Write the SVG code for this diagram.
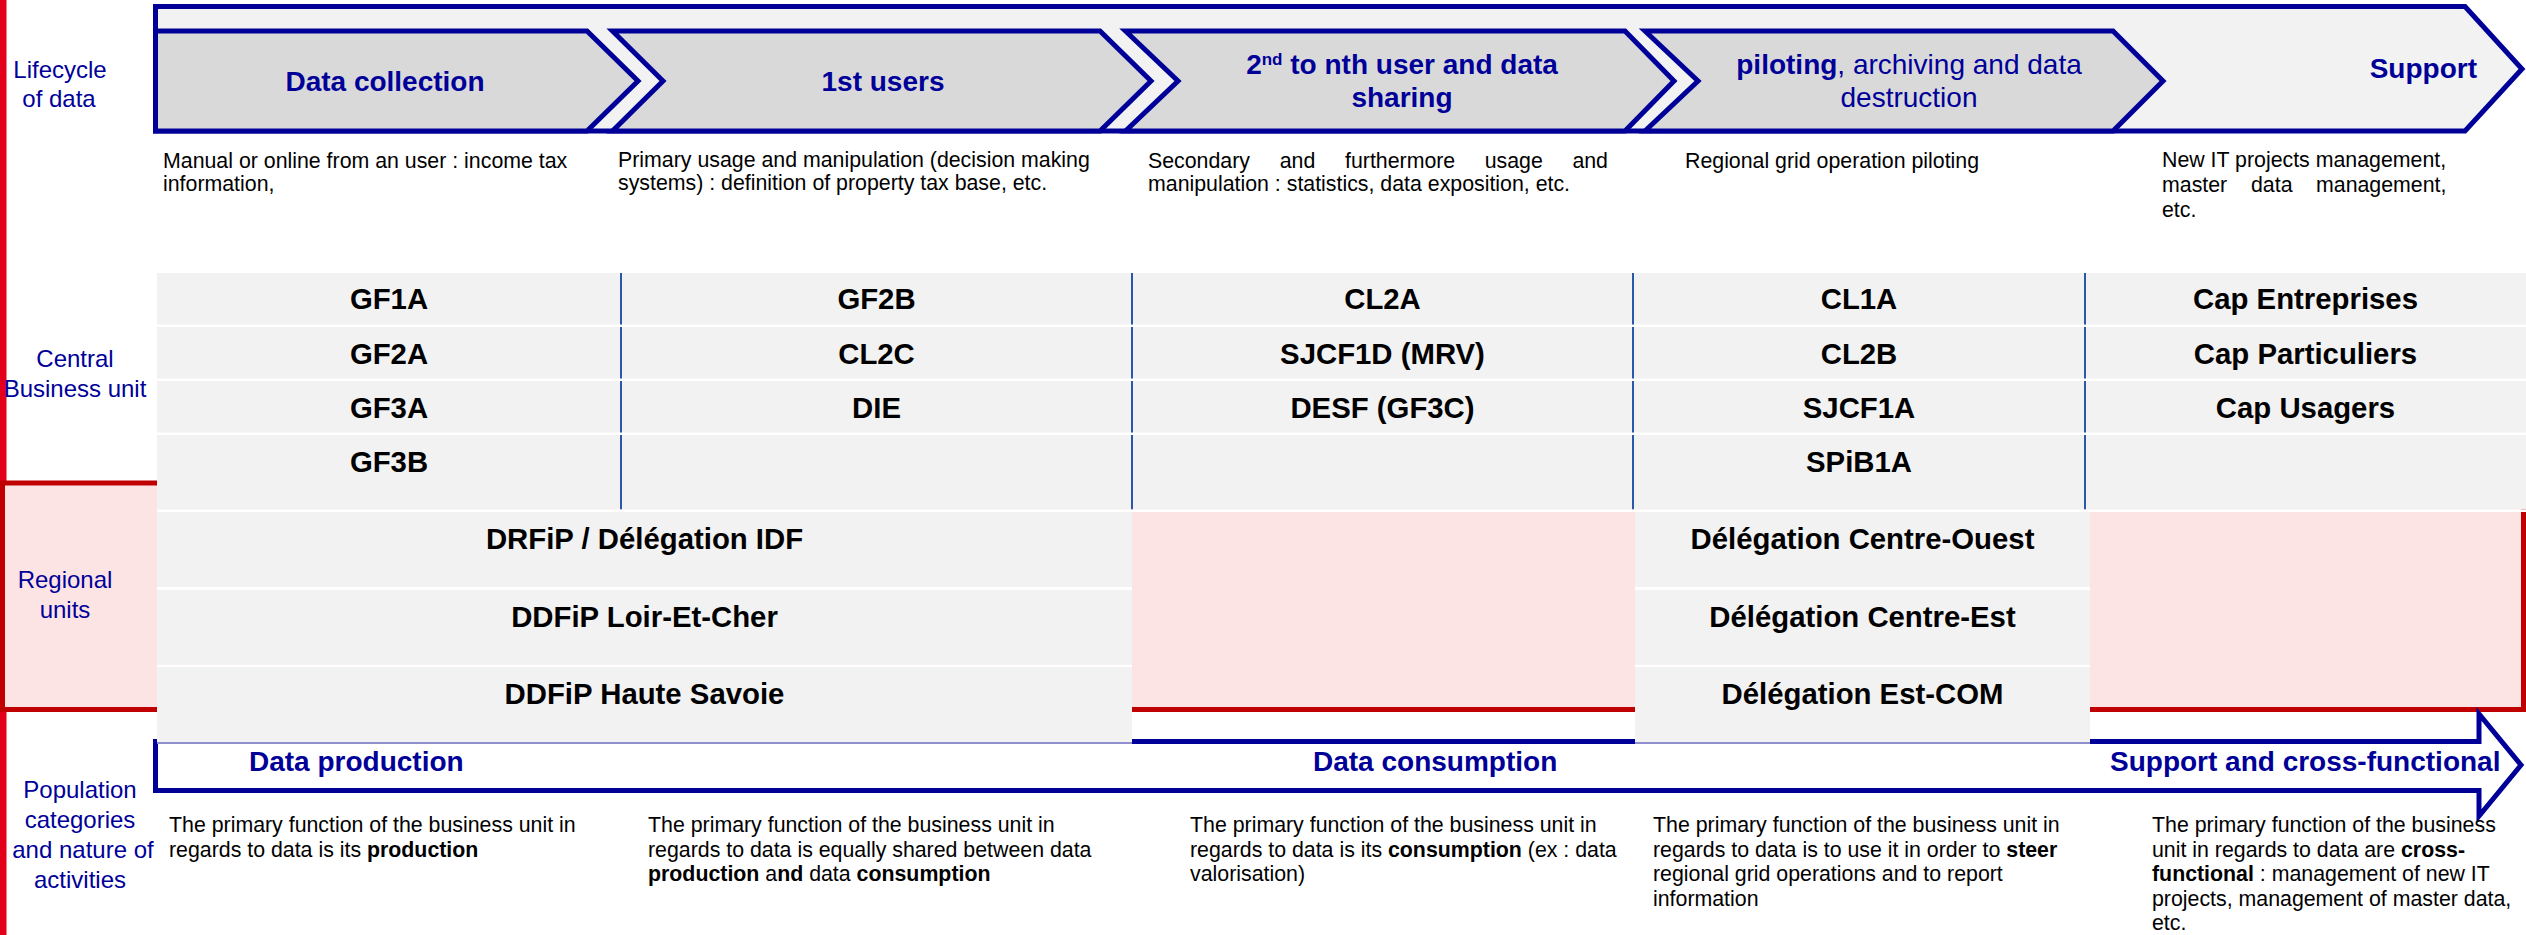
<svg xmlns="http://www.w3.org/2000/svg" width="2526" height="935" viewBox="0 0 2526 935">
<style>
text{font-family:"Liberation Sans",Arial,sans-serif}
.hd{font-size:28px;font-weight:bold;fill:#000099}
.hdm{text-anchor:middle}
.rg{font-weight:normal}
.lb{font-size:24px;fill:#000099;text-anchor:middle}
.ds{font-size:21.33px;fill:#000}
.b{font-weight:bold}
.cl{font-size:29.33px;font-weight:bold;fill:#000;text-anchor:middle}
.ar{stroke:#000099;stroke-width:5;stroke-linejoin:miter;stroke-miterlimit:10}
.chev{fill:#d9d9d9}
.cell{fill:#f2f2f2}
.gap{fill:#ffffff}
.dv{stroke:#2a58a8;stroke-width:2;fill:none}
</style>
<rect x="0" y="0" width="2526" height="935" fill="#ffffff"/>
<rect id="left-red-line" x="0" y="0" width="6.5" height="935" fill="#e2001a"/>
<rect id="regional-band" x="2.5" y="483" width="2521" height="226.5" fill="#fde4e4" stroke="#c00000" stroke-width="5"/>

<g id="lifecycle-arrow">
<polygon class="ar" fill="#f2f2f2" points="155.5,6.5 2465,6.5 2522,69 2465,131 155.5,131"/>
</g>
<g id="chev-data-collection">
<polygon class="ar chev" points="155.5,31 587,31 638,81 587,131 155.5,131"/>
<text class="hd hdm" x="385" y="91">Data collection</text>
</g>
<g id="chev-1st-users">
<polygon class="ar chev" points="612.5,31 1100,31 1151,81 1100,131 612.5,131 663,81"/>
<text class="hd hdm" x="883" y="91">1st users</text>
</g>
<g id="chev-2nd-users">
<polygon class="ar chev" points="1125.5,31 1625,31 1674,81 1625,131 1125.5,131 1178,81"/>
<text class="hd hdm" x="1402" y="74">2<tspan font-size="17" dy="-9">nd</tspan><tspan dy="9"> to nth user and data</tspan></text>
<text class="hd hdm" x="1402" y="107">sharing</text>
</g>
<g id="chev-piloting">
<polygon class="ar chev" points="1645,31 2113,31 2163,81 2113,131 1645,131 1698,81"/>
<text class="hd hdm" x="1909" y="74">piloting<tspan class="rg">, archiving and data</tspan></text>
<text class="hd hdm rg" x="1909" y="107">destruction</text>
</g>
<g id="support-label">
<text class="hd" x="2477" y="78" text-anchor="end">Support</text>
</g>

<g id="lifecycle-descriptions">
<text class="ds" x="163" y="168" font-size="22">Manual or online from an user : income tax</text>
<text class="ds" x="163" y="191" font-size="22">information,</text>
<text class="ds" x="618" y="167">Primary usage and manipulation (decision making</text>
<text class="ds" x="618" y="190">systems) : definition of property tax base, etc.</text>
<text class="ds" y="168"><tspan x="1148">Secondary</tspan><tspan x="1279.7">and</tspan><tspan x="1345">furthermore</tspan><tspan x="1484.7">usage</tspan><tspan x="1572.4">and</tspan></text>
<text class="ds" x="1148" y="191">manipulation : statistics, data exposition, etc.</text>
<text class="ds" x="1685" y="168">Regional grid operation piloting</text>
<text class="ds" x="2162" y="167">New IT projects management,</text>
<text class="ds" y="192"><tspan x="2162">master</tspan><tspan x="2251">data</tspan><tspan x="2316">management,</tspan></text>
<text class="ds" x="2162" y="217">etc.</text>
</g>

<g id="row-labels">
<text class="lb" x="60" y="78">Lifecycle</text>
<text class="lb" x="59" y="107">of data</text>
<text class="lb" x="75" y="366.5">Central</text>
<text class="lb" x="75" y="396.5">Business unit</text>
<text class="lb" x="65" y="588">Regional</text>
<text class="lb" x="65" y="618">units</text>
<text class="lb" x="80" y="798">Population</text>
<text class="lb" x="80" y="828">categories</text>
<text class="lb" x="83" y="858">and nature of</text>
<text class="lb" x="80" y="888">activities</text>
</g>

<g id="population-arrow">
<polygon class="ar" fill="#ffffff" points="155.5,741.5 2479,741.5 2479,714 2521,765 2479,816 2479,790.5 155.5,790.5"/>
<text class="hd" x="249" y="771">Data production</text>
<text class="hd" x="1313" y="771">Data consumption</text>
<text class="hd" x="2110" y="771">Support and cross-functional</text>
</g>

<g id="central-grid">
<rect class="cell" x="157" y="273" width="2369" height="51.5"/>
<rect class="cell" x="157" y="327" width="2369" height="51.5"/>
<rect class="cell" x="157" y="381" width="2369" height="51.5"/>
<rect class="cell" x="157" y="435" width="2369" height="74.5"/>
<path class="dv" d="M621 273V324.5M621 327V378.5M621 381V432.5M621 435V509.5M1132 273V324.5M1132 327V378.5M1132 381V432.5M1132 435V509.5M1633 273V324.5M1633 327V378.5M1633 381V432.5M1633 435V509.5M2085 273V324.5M2085 327V378.5M2085 381V432.5M2085 435V509.5"/>
<rect class="gap" x="157" y="509.5" width="2369" height="2.5"/>
</g>
<g id="unit-GF1A"><text class="cl" x="389" y="309">GF1A</text></g>
<g id="unit-GF2A"><text class="cl" x="389" y="364">GF2A</text></g>
<g id="unit-GF3A"><text class="cl" x="389" y="418">GF3A</text></g>
<g id="unit-GF3B"><text class="cl" x="389" y="472">GF3B</text></g>
<g id="unit-GF2B"><text class="cl" x="876.5" y="309">GF2B</text></g>
<g id="unit-CL2C"><text class="cl" x="876.5" y="364">CL2C</text></g>
<g id="unit-DIE"><text class="cl" x="876.5" y="418">DIE</text></g>
<g id="unit-CL2A"><text class="cl" x="1382.5" y="309">CL2A</text></g>
<g id="unit-SJCF1D"><text class="cl" x="1382.5" y="364">SJCF1D (MRV)</text></g>
<g id="unit-DESF"><text class="cl" x="1382.5" y="418">DESF (GF3C)</text></g>
<g id="unit-CL1A"><text class="cl" x="1859" y="309">CL1A</text></g>
<g id="unit-CL2B"><text class="cl" x="1859" y="364">CL2B</text></g>
<g id="unit-SJCF1A"><text class="cl" x="1859" y="418">SJCF1A</text></g>
<g id="unit-SPiB1A"><text class="cl" x="1859" y="472">SPiB1A</text></g>
<g id="unit-cap-entreprises"><text class="cl" x="2305.5" y="309">Cap Entreprises</text></g>
<g id="unit-cap-particuliers"><text class="cl" x="2305.5" y="364">Cap Particuliers</text></g>
<g id="unit-cap-usagers"><text class="cl" x="2305.5" y="418">Cap Usagers</text></g>

<rect x="157" y="741" width="975" height="3" fill="#8f8fd0"/>
<rect x="1635" y="741" width="455" height="3" fill="#8f8fd0"/>
<rect class="gap" x="157" y="587" width="975" height="3"/>
<rect class="gap" x="157" y="664.5" width="975" height="2.5"/>
<rect class="gap" x="1635" y="587" width="455" height="3"/>
<rect class="gap" x="1635" y="664.5" width="455" height="2.5"/>

<g id="unit-drfip-idf">
<rect class="cell" x="157" y="512" width="975" height="75"/>
<text class="cl" x="644.5" y="549">DRFiP / Délégation IDF</text>
</g>
<g id="unit-ddfip-loir-et-cher">
<rect class="cell" x="157" y="590" width="975" height="74.5"/>
<text class="cl" x="644.5" y="627">DDFiP Loir-Et-Cher</text>
</g>
<g id="unit-ddfip-haute-savoie">
<rect class="cell" x="157" y="667" width="975" height="75"/>
<text class="cl" x="644.5" y="704">DDFiP Haute Savoie</text>
</g>
<g id="unit-delegation-centre-ouest">
<rect class="cell" x="1635" y="512" width="455" height="75"/>
<text class="cl" x="1862.5" y="549">Délégation Centre-Ouest</text>
</g>
<g id="unit-delegation-centre-est">
<rect class="cell" x="1635" y="590" width="455" height="74.5"/>
<text class="cl" x="1862.5" y="627">Délégation Centre-Est</text>
</g>
<g id="unit-delegation-est-com">
<rect class="cell" x="1635" y="667" width="455" height="75"/>
<text class="cl" x="1862.5" y="704">Délégation Est-COM</text>
</g>

<g id="population-descriptions">
<text class="ds" x="169" y="832">The primary function of the business unit in</text>
<text class="ds" x="169" y="856.5">regards to data is its <tspan class="b">production</tspan></text>
<text class="ds" x="648" y="832">The primary function of the business unit in</text>
<text class="ds" x="648" y="856.5">regards to data is equally shared between data</text>
<text class="ds" x="648" y="881"><tspan class="b">production</tspan> a<tspan class="b">nd</tspan> data <tspan class="b">consumption</tspan></text>
<text class="ds" x="1190" y="832">The primary function of the business unit in</text>
<text class="ds" x="1190" y="856.5">regards to data is its <tspan class="b">consumption</tspan> (ex : data</text>
<text class="ds" x="1190" y="881">valorisation)</text>
<text class="ds" x="1653" y="832">The primary function of the business unit in</text>
<text class="ds" x="1653" y="856.5">regards to data is to use it in order to <tspan class="b">steer</tspan></text>
<text class="ds" x="1653" y="881">regional grid operations and to report</text>
<text class="ds" x="1653" y="905.5">information</text>
<text class="ds" x="2152" y="832">The primary function of the business</text>
<text class="ds" x="2152" y="856.5">unit in regards to data are <tspan class="b">cross-</tspan></text>
<text class="ds" x="2152" y="881"><tspan class="b">functional</tspan> : management of new IT</text>
<text class="ds" x="2152" y="905.5">projects, management of master data,</text>
<text class="ds" x="2152" y="930">etc.</text>
</g>
<g id="connectors"></g>
</svg>
